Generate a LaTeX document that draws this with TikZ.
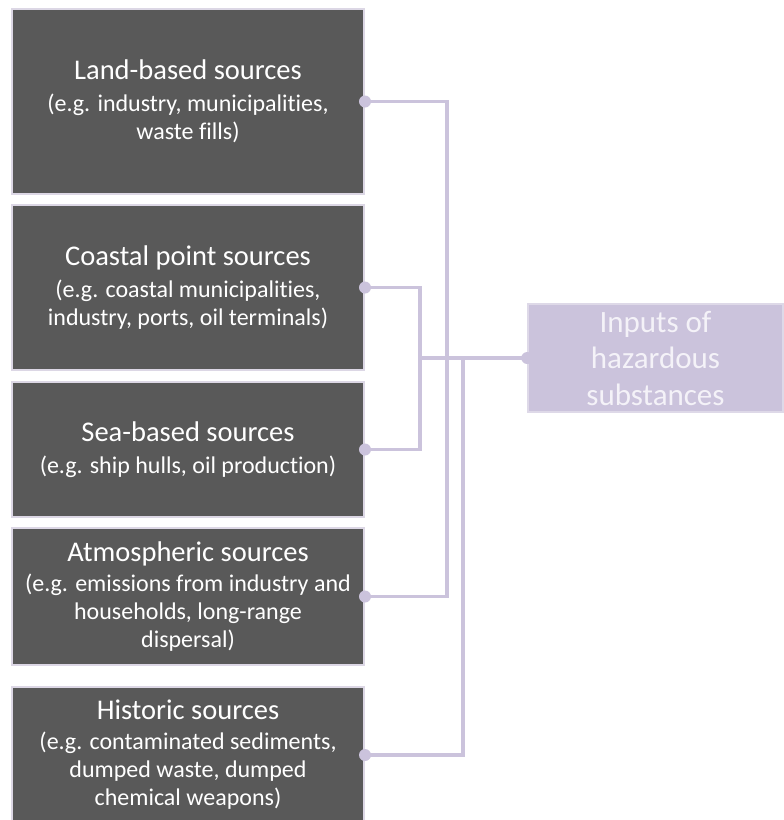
\documentclass[tikz,border=0pt]{standalone}
\usepackage{fontspec}
\setmainfont{Carlito}[Ligatures={NoCommon,NoContextual}]
\definecolor{srcfill}{HTML}{595959}
\definecolor{srcedge}{HTML}{DCD7E5}
\definecolor{lilac}{HTML}{CBC3DC}
\definecolor{tgtedge}{HTML}{DED9E8}
\definecolor{tgttext}{HTML}{F4F2F8}
\begin{document}
\begin{tikzpicture}[x=1pt,y=-1pt,
  srcbox/.style={draw=srcedge, line width=2pt, fill=srcfill, text=white,
    inner sep=0pt, minimum width=352pt, align=center,
    font=\fontsize{24}{28}\selectfont},
  tgtbox/.style={draw=tgtedge, line width=1.5pt, fill=lilac, text=tgttext,
    inner sep=0pt, minimum width=255pt, minimum height=108pt, align=center,
    font=\fontsize{31}{36.5}\selectfont},
  conn/.style={draw=lilac, line width=3.2pt},
  dot/.style={fill=lilac}
]
\clip (0,0) rectangle (784,820);
\fill[white] (0,0) rectangle (784,820);

% source boxes
\node[srcbox, minimum height=185pt] (land) at (188,101.5)
  {{\fontsize{28.5}{31}\selectfont Land-based sources}\\[4pt]
   (e.g. industry, municipalities,\\ waste fills)};
\node[srcbox, minimum height=165pt] (coast) at (188,287.5)
  {{\fontsize{28.5}{31}\selectfont Coastal point sources}\\[4pt]
   (e.g. coastal municipalities,\\ industry, ports, oil terminals)};
\node[srcbox, minimum height=135pt] (sea) at (188,449.5)
  {{\fontsize{28.5}{31}\selectfont Sea-based sources}\\[4pt]
   (e.g. ship hulls, oil production)};
\node[srcbox, minimum height=137pt] (atmo) at (188,596.5)
  {{\fontsize{28.5}{31}\selectfont Atmospheric sources}\\[2pt]
   (e.g. emissions from industry and\\ households, long-range\\ dispersal)};
\node[srcbox, minimum height=136pt] (hist) at (188,755)
  {{\fontsize{28.5}{31}\selectfont Historic sources}\\[2pt]
   (e.g. contaminated sediments,\\ dumped waste, dumped\\ chemical weapons)};

% target box
\node[tgtbox] (tgt) at (655.5,358)
  {Inputs of\\ hazardous\\ substances};

% vertical collector lines
\coordinate (busA) at (447,0);
\coordinate (busB) at (420,0);
\coordinate (busC) at (463,0);

\draw[conn] (land.east) -| (busA |- tgt.west) -- (tgt.west);
\draw[conn] (atmo.east) -| (busA |- tgt.west) -- (tgt.west);
\draw[conn] (coast.east) -| (busB |- tgt.west) -- (tgt.west);
\draw[conn] (sea.east) -| (busB |- tgt.west) -- (tgt.west);
\draw[conn] (hist.east) -| (busC |- tgt.west) -- (tgt.west);

% connection dots
\foreach \n in {land,coast,sea,atmo,hist}
  \fill[dot] (\n.east) circle (6);
\fill[dot] (tgt.west) circle (6);
\end{tikzpicture}
\end{document}
